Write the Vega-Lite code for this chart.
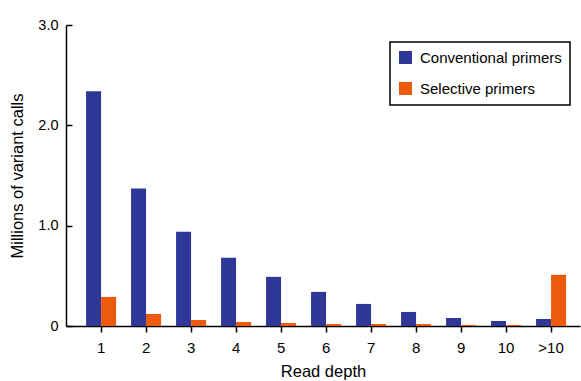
{
  "$schema": "https://vega.github.io/schema/vega-lite/v6.json",
  "width": 514,
  "height": 301,
  "autosize": {"type": "none"},
  "padding": {"left": 66, "top": 25, "right": 1, "bottom": 55},
  "background": "white",
  "config": {
    "view": {"stroke": null},
    "font": "Liberation Sans",
    "axis": {"grid": false, "domainColor": "black", "tickColor": "black", "labelColor": "black", "titleColor": "black", "labelFont": "Liberation Sans", "titleFont": "Liberation Sans", "titleFontWeight": "normal", "domainWidth": 1.5, "tickWidth": 1.5},
    "legend": {"strokeColor": "black", "strokeWidth": 1.5, "fillColor": "white", "labelFont": "Liberation Sans", "labelColor": "black"}
  },
  "data": {
    "values": [
      {"depth": "1", "series": "Conventional primers", "value": 2.34},
      {"depth": "2", "series": "Conventional primers", "value": 1.37},
      {"depth": "3", "series": "Conventional primers", "value": 0.94},
      {"depth": "4", "series": "Conventional primers", "value": 0.68},
      {"depth": "5", "series": "Conventional primers", "value": 0.49},
      {"depth": "6", "series": "Conventional primers", "value": 0.34},
      {"depth": "7", "series": "Conventional primers", "value": 0.22},
      {"depth": "8", "series": "Conventional primers", "value": 0.14},
      {"depth": "9", "series": "Conventional primers", "value": 0.08},
      {"depth": "10", "series": "Conventional primers", "value": 0.05},
      {"depth": ">10", "series": "Conventional primers", "value": 0.07},
      {"depth": "1", "series": "Selective primers", "value": 0.29},
      {"depth": "2", "series": "Selective primers", "value": 0.12},
      {"depth": "3", "series": "Selective primers", "value": 0.06},
      {"depth": "4", "series": "Selective primers", "value": 0.04},
      {"depth": "5", "series": "Selective primers", "value": 0.03},
      {"depth": "6", "series": "Selective primers", "value": 0.02},
      {"depth": "7", "series": "Selective primers", "value": 0.02},
      {"depth": "8", "series": "Selective primers", "value": 0.02},
      {"depth": "9", "series": "Selective primers", "value": 0.01},
      {"depth": "10", "series": "Selective primers", "value": 0.01},
      {"depth": ">10", "series": "Selective primers", "value": 0.51}
    ]
  },
  "mark": {"type": "bar"},
  "encoding": {
    "x": {
      "field": "depth",
      "type": "nominal",
      "sort": ["1", "2", "3", "4", "5", "6", "7", "8", "9", "10", ">10"],
      "scale": {"paddingInner": 0.3333, "paddingOuter": 0.378, "align": 0.59},
      "axis": {"title": "Read depth", "labelAngle": 0, "labelFontSize": 15, "titleFontSize": 16.5, "tickSize": 6, "labelPadding": 8, "titlePadding": 8}
    },
    "xOffset": {"field": "series", "type": "nominal", "sort": ["Conventional primers", "Selective primers"], "scale": {"paddingInner": 0, "paddingOuter": 0}},
    "y": {
      "field": "value",
      "type": "quantitative",
      "scale": {"domain": [0, 3], "nice": false},
      "axis": {"title": "Millions of variant calls", "values": [0, 1, 2, 3], "labelExpr": "datum.value == 0 ? '0' : format(datum.value, '.1f')", "labelFontSize": 14.5, "titleFontSize": 16.5, "tickSize": -6, "labelPadding": 14, "titlePadding": 12}
    },
    "color": {
      "field": "series",
      "type": "nominal",
      "sort": ["Conventional primers", "Selective primers"],
      "scale": {"range": ["#2f3798", "#ec5b0b"]},
      "legend": {"title": null, "orient": "none", "legendX": 324, "legendY": 17, "padding": 8, "symbolType": "square", "symbolSize": 169, "symbolStrokeWidth": 0, "symbolOpacity": 1, "labelFontSize": 15, "labelLimit": 300, "rowPadding": 15, "labelOffset": 7}
    }
  }
}
